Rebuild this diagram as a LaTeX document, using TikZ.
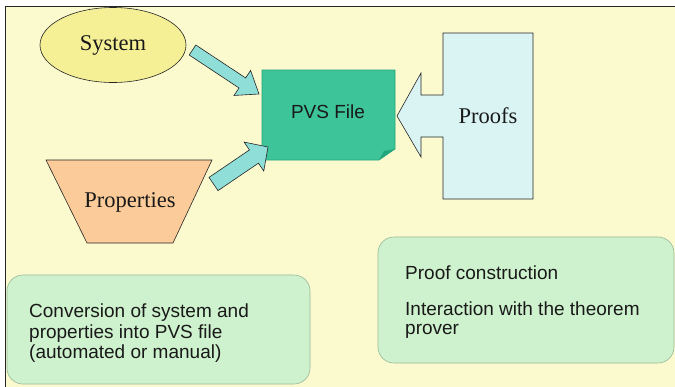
\documentclass[tikz,border=0pt]{standalone}
\usepackage{fontspec}
\setmainfont{Liberation Serif}
\setsansfont{Liberation Sans}
\usetikzlibrary{shapes.geometric,calc}
\definecolor{bgc}{HTML}{FBF9CE}
\definecolor{ellc}{HTML}{F5F096}
\definecolor{pvsc}{HTML}{3DC499}
\definecolor{pvsd}{HTML}{22A67C}
\definecolor{arrc}{HTML}{8FDED8}
\definecolor{proofc}{HTML}{DAF4F3}
\definecolor{propc}{HTML}{FBCC99}
\definecolor{notec}{HTML}{CFF2CE}
\definecolor{noted}{HTML}{98B898}
\tikzset{
  serifbig/.style={font=\fontsize{22.5}{26}\selectfont\rmfamily, text=black!90},
  sanstext/.style={font=\fontsize{19}{21}\selectfont\sffamily, text=black!90},
  outl/.style={draw=black!85, line width=0.6pt, line join=miter},
  blockarr/.style={outl, fill=arrc},
  notebox/.style={draw=noted, fill=notec, line width=0.6pt, rounded corners=16pt},
}
\newcommand{\blockarrow}[5]{%
  \coordinate (tmpH) at ($(#2)!#5!(#1)$);
  \draw[blockarr] ($(#1)!#3!90:(#2)$) -- ($(tmpH)!#3!90:(#2)$) -- ($(tmpH)!#4!90:(#2)$) -- (#2)
    -- ($(tmpH)!#4!-90:(#2)$) -- ($(tmpH)!#3!-90:(#2)$) -- ($(#1)!#3!-90:(#2)$) -- cycle;}
\begin{document}
\begin{tikzpicture}[x=1pt,y=-1pt]
\useasboundingbox (0,0) rectangle (675,386);
\clip (0,0) rectangle (675,386);
\fill[white] (0,0) rectangle (675,386);
\fill[bgc] (5,6) rectangle (690,400);
\draw[black!85, line width=0.8pt] (5,400) -- (5,6) -- (690,6);

% System
\node[ellipse, outl, fill=ellc, minimum width=146pt, minimum height=75pt, inner sep=0pt, serifbig] (sys) at (113,45) {System};

% Properties
\draw[outl, fill=propc] (46,160) -- (212,160) -- (173,243) -- (87,243) -- cycle;
\node[serifbig, inner sep=0pt] (prop) at (130,202) {Properties};

% PVS file
\draw[draw=pvsd, fill=pvsc, line width=0.6pt] (262,70) -- (395,70) -- (395,149) -- (379,160) -- (262,160) -- cycle;
\fill[pvsd] (379,160) -- (395,149) -- (384,151) -- cycle;
\node[sanstext, inner sep=0pt] (pvs) at (328,112) {PVS File};

% Proofs callout
\draw[outl, fill=proofc] (443,33) -- (533,33) -- (533,199) -- (443,199) -- (443,137) -- (421,137)
  -- (421,157) -- (397,116) -- (421,73) -- (421,95) -- (443,95) -- cycle;
\node[serifbig, inner sep=0pt] (proofs) at (488,116) {Proofs};

% block arrows
\coordinate (a1s) at (192.5,50);
\coordinate (a1t) at (259,94);
\blockarrow{a1s}{a1t}{6pt}{15pt}{20pt}
\coordinate (a2s) at (213.5,184);
\coordinate (a2t) at (268,147);
\blockarrow{a2s}{a2t}{8pt}{17.5pt}{17pt}

% notes
\draw[notebox] (7,275) rectangle (310,384);
\node[sanstext, font=\fontsize{19}{20.3}\selectfont\sffamily, align=left, anchor=north west, inner sep=0pt] (conv) at (29,304)
  {Conversion of system and\\properties into PVS file\\(automated or manual)};
\draw[notebox] (378,237) rectangle (674,363);
\node[sanstext, align=left, anchor=north west, inner sep=0pt] (constr) at (405,265.5)
  {Proof construction\\[15pt]Interaction with the theorem\\[-2pt]prover};
\end{tikzpicture}
\end{document}
